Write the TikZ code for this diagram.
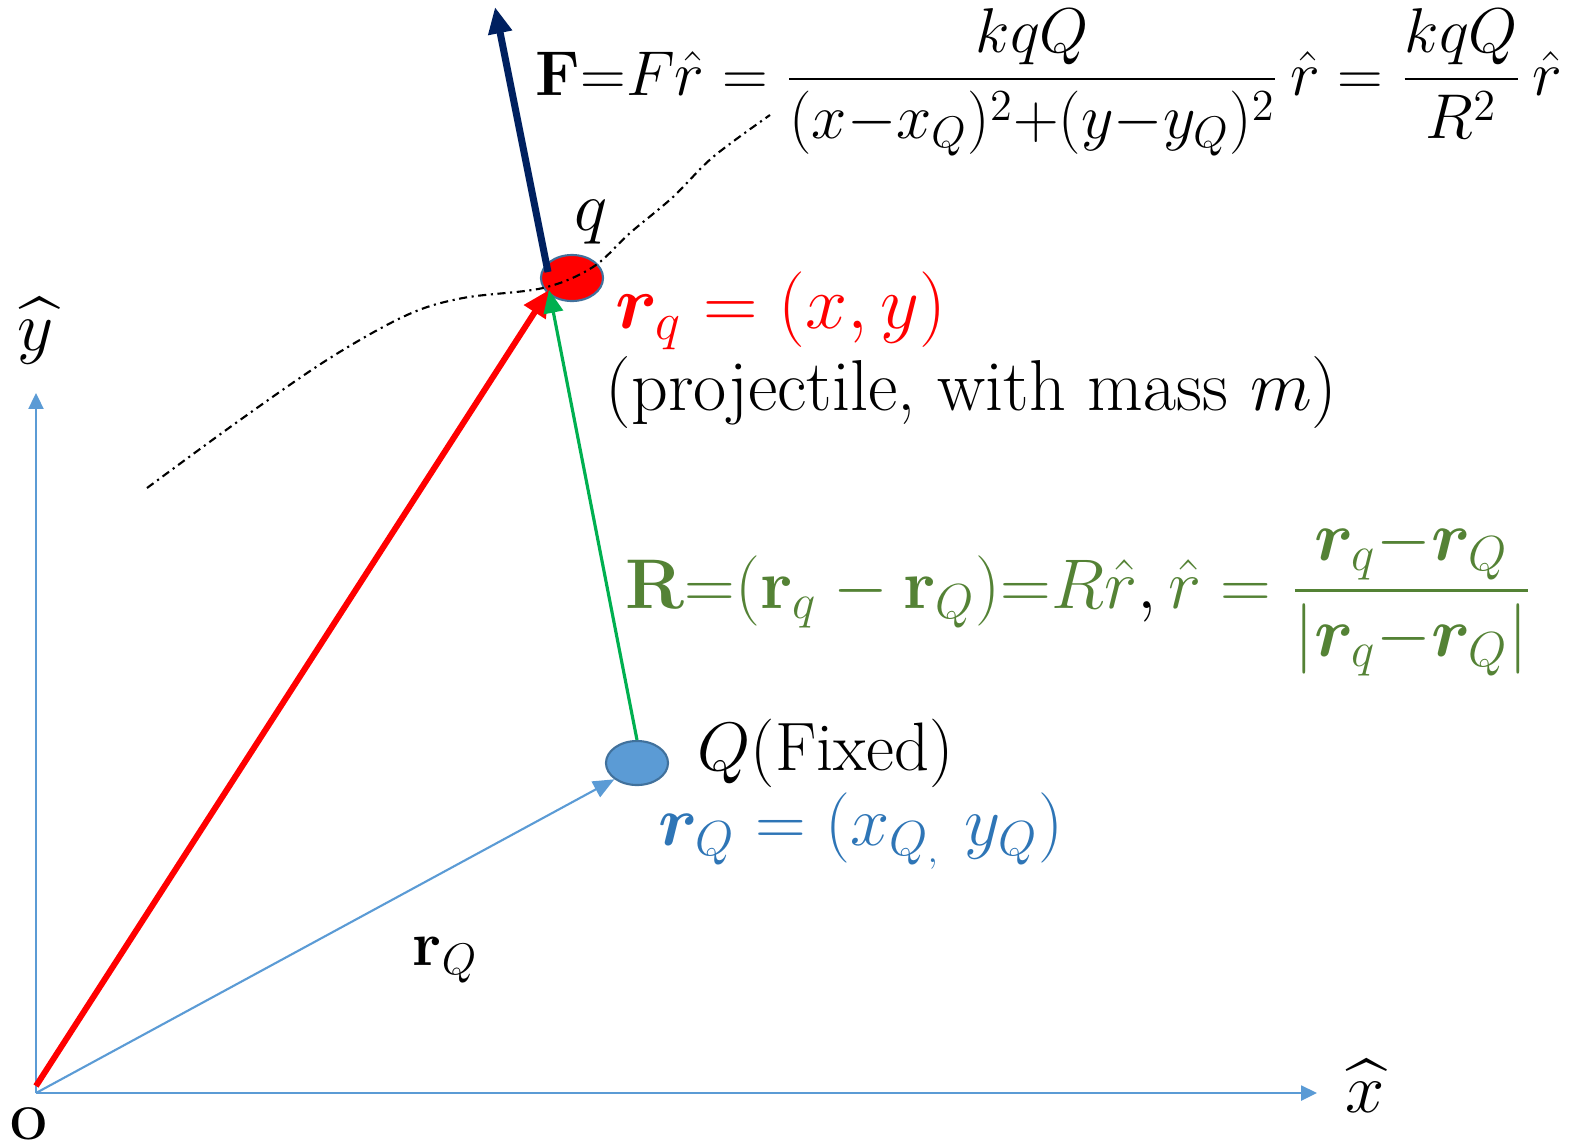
\RequirePackage{fix-cm}
\documentclass[tikz,border=0pt]{standalone}
\usepackage{amsmath,bm}
\usetikzlibrary{arrows.meta,shapes.geometric}
\definecolor{axisblue}{HTML}{5B9BD5}
\definecolor{navyF}{HTML}{002060}
\definecolor{arrgreen}{HTML}{00B050}
\definecolor{olivetxt}{HTML}{548235}
\definecolor{txtblue}{HTML}{2E75B6}
\definecolor{rimblue}{HTML}{41719C}
\begin{document}
\begin{tikzpicture}[x=0.01cm,y=-0.01cm,
  axisarrow/.style={axisblue, line width=0.75pt, -{Triangle[length=4.5pt,width=4.2pt]}},
  charge/.style={ellipse, draw=rimblue, line width=0.6pt, inner sep=0pt},
  lbl/.style={anchor=base west, inner sep=0pt},
  trajectory/.style={black, line width=0.6pt, dash pattern=on 2.3pt off 1.3pt on 0.6pt off 1.3pt}]
\useasboundingbox (0,0) rectangle (1573,1145);
% origin and axis ends
\coordinate (O) at (36,1093);
\coordinate (Ored) at (36,1086);
\coordinate (xend) at (1317,1093);
\coordinate (yend) at (36,393);
\draw[axisarrow] (O) -- (xend);
\draw[axisarrow] (O) -- (yend);
% charges
\node[charge, fill=axisblue, minimum width=0.62cm, minimum height=0.44cm] (Q) at (637,763) {};
\node[charge, fill=red, minimum width=0.62cm, minimum height=0.46cm] (q) at (572,278) {};
\coordinate (hit) at (549,290);
\coordinate (Ftail) at (548,272);
\coordinate (Ftip) at (495,7);
% vectors
\draw[axisblue, line width=0.6pt, -{Triangle[length=6pt,width=5pt]}] (O) -- (Q.south west);
\draw[red, line width=1.7pt, -{Triangle[length=7.5pt,width=7pt]}] (Ored) -- (hit);
\draw[arrgreen, line width=0.9pt, -{Triangle[length=6.5pt,width=5.5pt]}] (Q.north) -- (hit);
\draw[navyF, line width=2pt, -{Triangle[length=7.5pt,width=6.5pt]}] (Ftail) -- (Ftip);
% trajectory
\draw[trajectory] plot[smooth, tension=0.55] coordinates {(147,488) (240,420) (330,358) (407,315) (463,298) (543,288) (593,267) (630,233) (673,197) (713,157) (770,115)};
% labels
\node[lbl, font=\fontsize{18}{22}\selectfont] (Feq) at (535,95) {$\mathbf{F}{=}F\hat{r} = \dfrac{kqQ}{(x{-}x_Q)^2{+}(y{-}y_Q)^2}\,\hat{r} = \dfrac{kqQ}{R^2}\,\hat{r}$};
\node[lbl, font=\fontsize{20}{24}\selectfont] (qlab) at (574,230) {$q$};
\node[lbl, text=red, font=\fontsize{21.5}{26}\selectfont] (rq) at (615,328) {$\bm{r}_q = (x, y)$};
\node[lbl, font=\fontsize{20.5}{24}\selectfont] (proj) at (605,410) {(projectile, with mass $m$)};
\node[lbl, text=olivetxt, font=\fontsize{20}{24}\selectfont] (Req) at (625,608) {$\mathbf{R}{=}(\mathbf{r}_q-\mathbf{r}_Q){=}R\hat{r}\textcolor{black}{,}\,\hat{r} = \dfrac{\bm{r}_q{-}\bm{r}_Q}{|\bm{r}_q{-}\bm{r}_Q|}$};
\node[lbl, font=\fontsize{19.5}{23}\selectfont] (Qlab) at (697,770) {$Q$(Fixed)};
\node[lbl, text=txtblue, font=\fontsize{20}{24}\selectfont] (rQeq) at (658,845) {$\bm{r}_Q = (x_{Q_,}\,\,y_Q)$};
\node[lbl, font=\fontsize{18}{22}\selectfont] (rQlab) at (412,965) {$\mathbf{r}_Q$};
\node[anchor=base, inner sep=0pt, font=\fontsize{20}{24}\selectfont] (ylab) at (36,350) {$\widehat{y}$};
\node[anchor=base, inner sep=0pt, font=\fontsize{20}{24}\selectfont] (xlab) at (1365,1112) {$\widehat{x}$};
\node[anchor=base, inner sep=0pt, font=\fontsize{13}{15}\selectfont\bfseries] (Olab) at (29,1139) {O};
\end{tikzpicture}
\end{document}
